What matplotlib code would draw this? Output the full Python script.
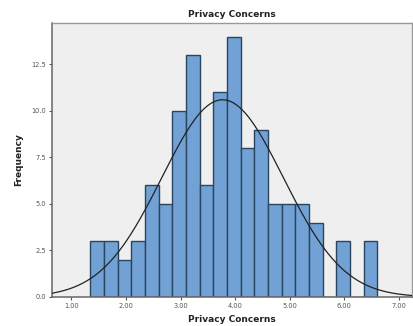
import matplotlib
matplotlib.use("Agg")
import matplotlib.pyplot as plt
import numpy as np

# Histogram data (bin counts)
bin_start = 1.35
bin_width = 0.25
counts = [3, 3, 2, 3, 6, 5, 10, 13, 6, 11, 14, 8, 9, 5, 5, 5, 4, 0, 3, 0, 3]
# Normal curve parameters
mean_val = 3.77
sd_val = 1.11
n_total = sum(counts)

xticks = [1.0, 2.0, 3.0, 4.0, 5.0, 6.0, 7.0]
xtick_labels = ["1.00", "2.00", "3.00", "4.00", "5.00", "6.00", "7.00"]
yticks = [0.0, 2.5, 5.0, 7.5, 10.0, 12.5]
ytick_labels = ["0.0", "2.5", "5.0", "7.5", "10.0", "12.5"]

fig = plt.figure(figsize=(4.14, 3.26), dpi=100)
ax = fig.add_axes([0.1256, 0.089, 0.87, 0.8404])
ax.set_facecolor("#EFEFEF")

lefts = [bin_start + i * bin_width for i in range(len(counts))]
ax.bar(lefts, counts, width=bin_width, align="edge", color="#72A2D5",
       edgecolor="#2A4560", linewidth=1.0, zorder=2)

xs = np.linspace(0.6, 7.3, 400)
ys = n_total * bin_width / (sd_val * np.sqrt(2 * np.pi)) * np.exp(-0.5 * ((xs - mean_val) / sd_val) ** 2)
ax.plot(xs, ys, color="#222222", linewidth=0.9, zorder=3)

ax.set_xlim(0.648, 7.24)
ax.set_ylim(0, 14.73)
ax.set_xticks(xticks)
ax.set_xticklabels(xtick_labels)
ax.set_yticks(yticks)
ax.set_yticklabels(ytick_labels)
ax.tick_params(axis="both", labelsize=4.8, length=2.5, width=0.8, colors="#555555", pad=1.5)

for side in ["left", "bottom"]:
    ax.spines[side].set_color("#666666")
    ax.spines[side].set_linewidth(1.1)
for side in ["top", "right"]:
    ax.spines[side].set_color("#999999")
    ax.spines[side].set_linewidth(1.0)

ax.set_title("Privacy Concerns", fontsize=6.5, fontweight="bold", pad=4, color="#222222")
ax.set_xlabel("Privacy Concerns", fontsize=6.5, fontweight="bold", labelpad=5, color="#222222")
ax.set_ylabel("Frequency", fontsize=6.5, fontweight="bold", labelpad=6, color="#222222")

fig.savefig("out.png", dpi=100)
